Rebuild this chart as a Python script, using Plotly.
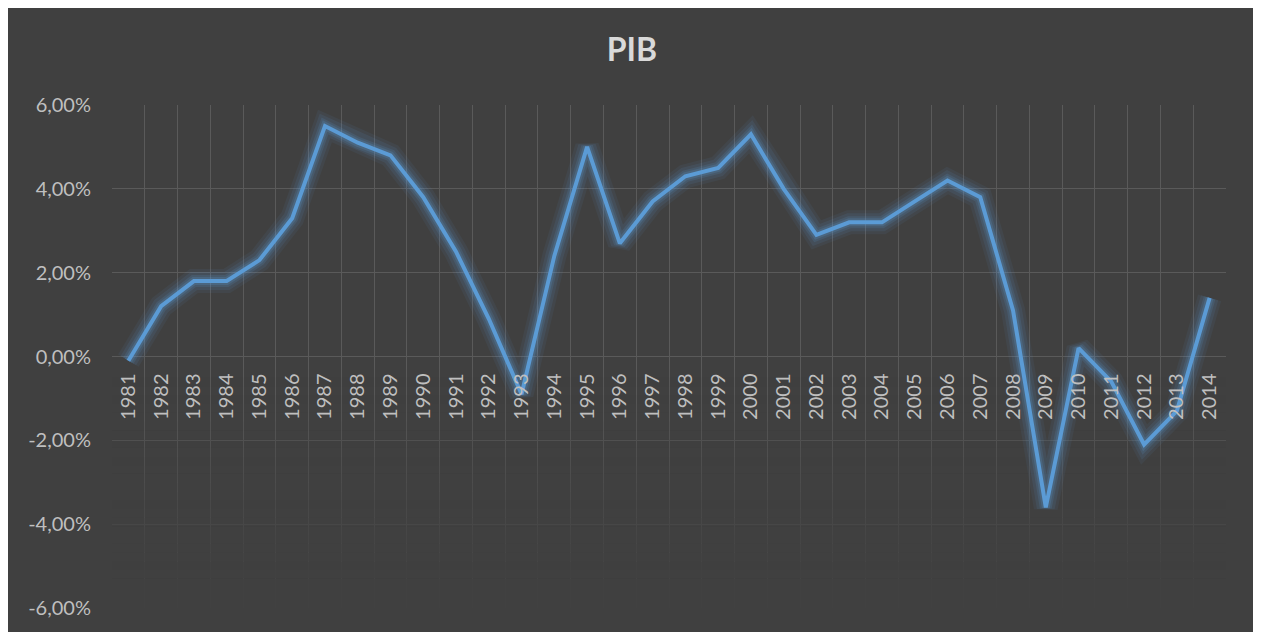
import plotly.graph_objects as go

years = ["1981", "1982", "1983", "1984", "1985", "1986", "1987", "1988", "1989", "1990",
         "1991", "1992", "1993", "1994", "1995", "1996", "1997", "1998", "1999", "2000",
         "2001", "2002", "2003", "2004", "2005", "2006", "2007", "2008", "2009", "2010",
         "2011", "2012", "2013", "2014"]
pib = [-0.1, 1.2, 1.8, 1.8, 2.3, 3.3, 5.5, 5.1, 4.8, 3.8,
       2.5, 0.9, -0.9, 2.4, 5.0, 2.7, 3.7, 4.3, 4.5, 5.3,
       4.0, 2.9, 3.2, 3.2, 3.7, 4.2, 3.8, 1.1, -3.6, 0.2,
       -0.6, -2.1, -1.3, 1.4]
y_ticks = [-6, -4, -2, 0, 2, 4, 6]
y_labels = ["-6,00%", "-4,00%", "-2,00%", "0,00%", "2,00%", "4,00%", "6,00%"]

# page body has an 8px margin, so figure coords = screen coords - 8
W, H = 1248, 624
L, R, T, B = 104, 1218, 97, 600
BG = "#404040"
LINE = "#5B9BD5"
GRID = "#5a5a5a"

fig = go.Figure()

# glow layers
for w, op in [(24, 0.07), (18, 0.10), (12, 0.14), (8, 0.2)]:
    fig.add_trace(go.Scatter(x=years, y=pib, mode="lines",
                             line=dict(color=LINE, width=w),
                             opacity=op, hoverinfo="skip", showlegend=False))
fig.add_trace(go.Scatter(x=years, y=pib, mode="lines", name="PIB",
                         line=dict(color=LINE, width=4), showlegend=False))

shapes = []
# fading of the grid in the lower part
n = 24
top, bot = -0.3, -5.3
step = (top - bot) / n
x_lo, x_hi = -0.52, len(years) - 1 + 0.52
for i in range(n):
    y1 = top - i * step
    y0 = y1 - step
    shapes.append(dict(type="rect", xref="x", yref="y", x0=x_lo, x1=x_hi,
                       y0=y0, y1=y1, fillcolor=BG, opacity=(i + 1) / n * 0.97,
                       line=dict(width=0), layer="between"))
shapes.append(dict(type="rect", xref="x", yref="y", x0=x_lo, x1=x_hi,
                   y0=-6.2, y1=bot, fillcolor=BG, opacity=0.97,
                   line=dict(width=0), layer="between"))

fig.update_layout(
    width=W, height=H,
    margin=dict(l=L, r=W - R, t=T, b=H - B),
    paper_bgcolor=BG,
    plot_bgcolor=BG,
    font=dict(family="Lato, 'Open Sans', sans-serif", color="#bfbfbf", size=20),
    title=dict(text="<b>PIB</b>", x=0.5, xref="container", xanchor="center",
               y=1 - 42 / H, yref="container", yanchor="middle",
               font=dict(family="Lato, sans-serif", size=32, color="#d9d9d9")),
    shapes=shapes,
    xaxis=dict(type="category", tickson="boundaries", showgrid=True,
               gridcolor=GRID, gridwidth=1, tickangle=-90,
               anchor="free", position=0.5, showline=False, ticks="",
               zeroline=False, ticklabelstandoff=12,
               range=[-0.5, len(years) - 0.5],
               tickfont=dict(size=20, color="#bfbfbf")),
    yaxis=dict(range=[-6, 6], tickvals=y_ticks, ticktext=y_labels,
               showgrid=True, gridcolor=GRID, gridwidth=1,
               zeroline=False, showline=False, ticks="",
               ticklabelstandoff=20,
               tickfont=dict(size=20, color="#bfbfbf")),
)

fig.write_html("out.html")
